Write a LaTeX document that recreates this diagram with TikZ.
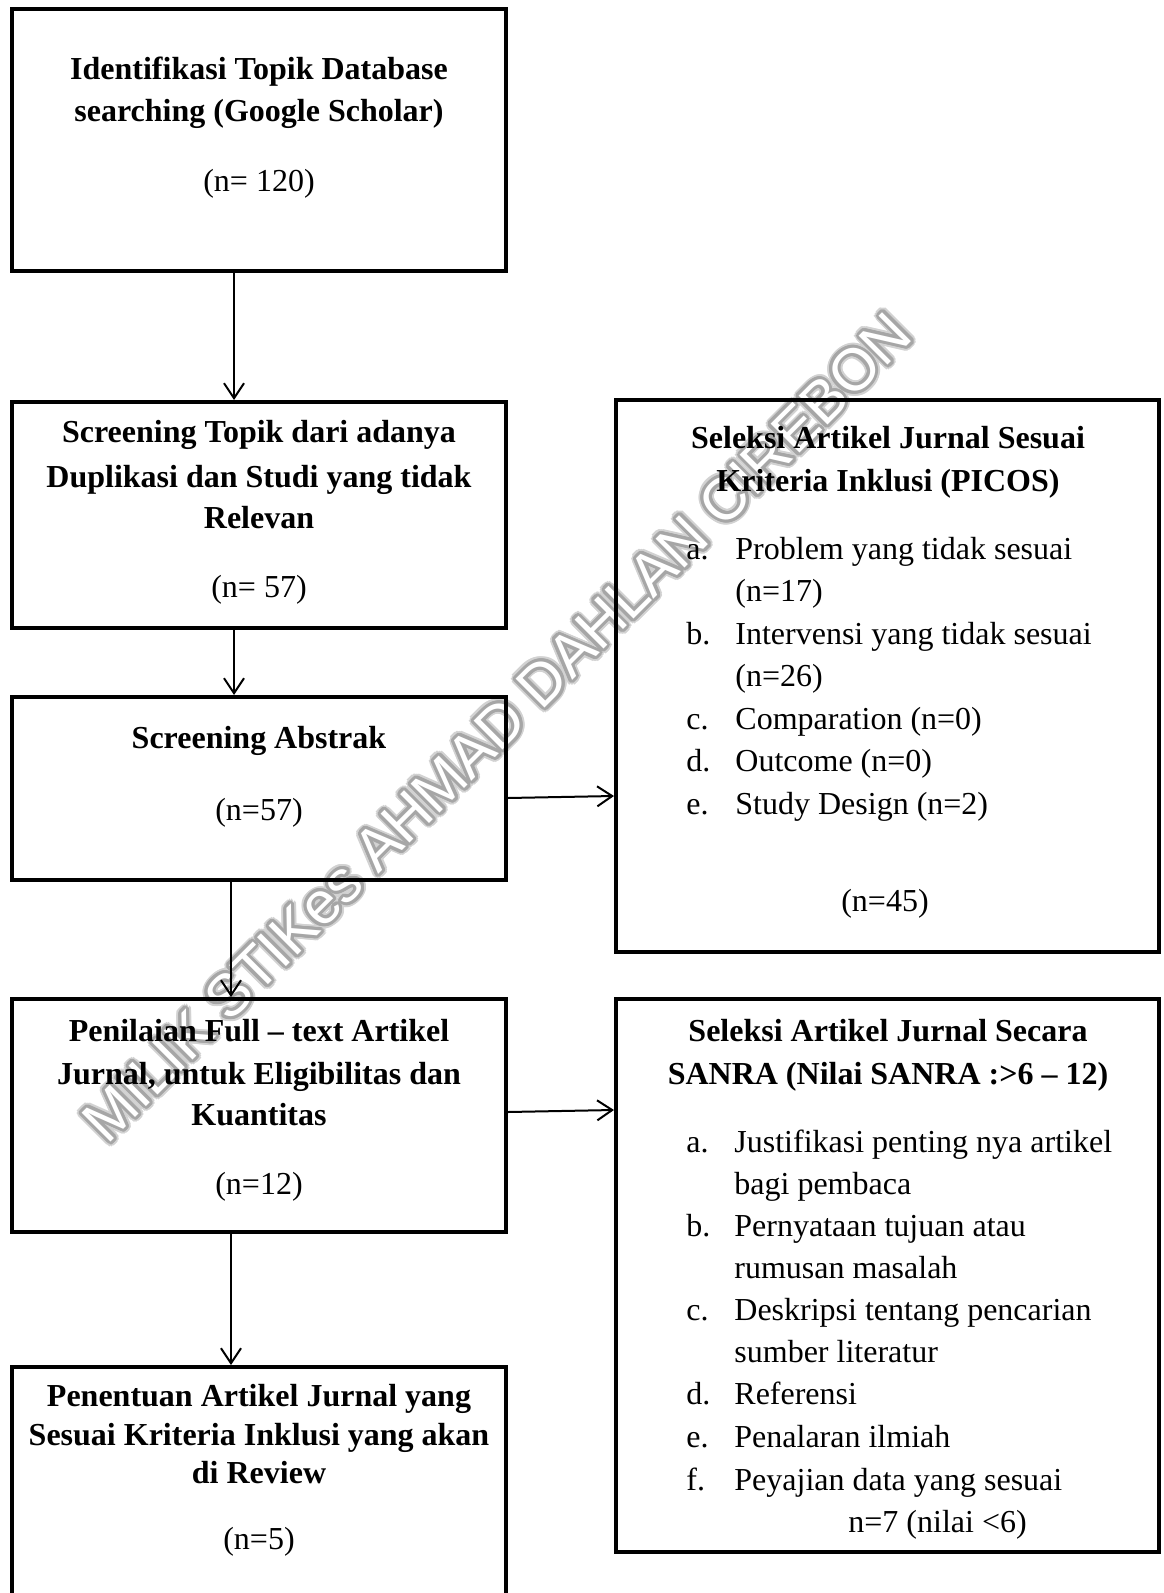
\documentclass[tikz,border=0pt]{standalone}
\usepackage{fontspec}
\setmainfont{Liberation Serif}
\newfontfamily\wmfont{Liberation Sans}
\usetikzlibrary{arrows.meta,calc}
\begin{document}
\begin{tikzpicture}[x=0.5pt,y=-0.5pt,
  box/.style={draw, line width=2pt, rectangle, inner sep=0pt},
  arr/.style={line width=1pt, -{Straight Barb[length=7.5pt,width=10pt]}},
  txt/.style={anchor=base, inner sep=0pt, font=\fontsize{16}{21}\selectfont},
  btxt/.style={txt, font=\fontsize{16}{21}\selectfont\bfseries},
  ltxt/.style={txt, anchor=base west},
  wm/.style={rotate=45, inner sep=0pt, font=\wmfont\fontsize{29.7}{30}\selectfont}]
\useasboundingbox (0,0) rectangle (1163,1593);
\fill[white] (0,0) rectangle (1163,1593);
\clip (0,0) rectangle (1163,1593);

% watermark (outlined grey lettering)
\foreach \a in {0,20,...,340}
  \node[wm, text=gray!35] at ($(497,727)+(\a:5)$) {MILIK STIKes AHMAD DAHLAN CIREBON};
\foreach \a in {0,20,...,340}
  \node[wm, text=gray!70] at ($(497,727)+(\a:3)$) {MILIK STIKes AHMAD DAHLAN CIREBON};
\node[wm, text=white] (wmark) at (497,727) {MILIK STIKes AHMAD DAHLAN CIREBON};

% boxes
\node[box, minimum width=247pt, minimum height=131pt] (b1) at (259,140) {};
\node[box, minimum width=247pt, minimum height=113pt] (b2) at (259,515) {};
\node[box, minimum width=247pt, minimum height=91.5pt] (b3) at (259,788.5) {};
\node[box, minimum width=247pt, minimum height=116.5pt] (b4) at (259,1115.5) {};
\node[box, minimum width=247pt, minimum height=126.5pt] (b5) at (259,1493.5) {};
\node[box, minimum width=271.5pt, minimum height=276pt] (p) at (887.5,676) {};
\node[box, minimum width=271.5pt, minimum height=276.5pt] (s) at (887.5,1275.5) {};

% connectors
\coordinate (x1) at (234,0);
\coordinate (x2) at (231,0);
\coordinate (y1) at (0,798);
\coordinate (y2) at (0,796);
\coordinate (y3) at (0,1112);
\coordinate (y4) at (0,1110);
\draw[arr] (b1.south -| x1) -- (b2.north -| x1);
\draw[arr] (b2.south -| x1) -- (b3.north -| x1);
\draw[arr] (b3.south -| x2) -- (b4.north -| x2);
\draw[arr] (b4.south -| x2) -- (b5.north -| x2);
\draw[arr] (b3.east |- y1) -- (p.west |- y2);
\draw[arr] (b4.east |- y3) -- (s.west |- y4);

% box 1
\node[btxt] (t11) at (259,80) {Identifikasi Topik Database};
\node[btxt] (t12) at (259,122) {searching (Google Scholar)};
\node[txt] (t13) at (259,192) {(n= 120)};
% box 2
\node[btxt] (t21) at (259,443) {Screening Topik dari adanya};
\node[btxt] (t22) at (259,487) {Duplikasi dan Studi yang tidak};
\node[btxt] (t23) at (259,528) {Relevan};
\node[txt] (t24) at (259,597) {(n= 57)};
% box 3
\node[btxt] (t31) at (259,748) {Screening Abstrak};
\node[txt] (t32) at (259,820) {(n=57)};
% box 4
\node[btxt] (t41) at (259,1041) {Penilaian Full – text Artikel};
\node[btxt] (t42) at (259,1084) {Jurnal, untuk Eligibilitas dan};
\node[btxt] (t43) at (259,1125) {Kuantitas};
\node[txt] (t44) at (259,1194) {(n=12)};
% box 5
\node[btxt] (t51) at (259,1406) {Penentuan Artikel Jurnal yang};
\node[btxt] (t52) at (259,1445) {Sesuai Kriteria Inklusi yang akan};
\node[btxt] (t53) at (259,1483) {di Review};
\node[txt] (t54) at (259,1549) {(n=5)};

% PICOS box
\node[btxt] (p1) at (888,448) {Seleksi Artikel Jurnal Sesuai};
\node[btxt] (p2) at (888,491) {Kriteria Inklusi (PICOS)};
\node[ltxt] (pa) at (686,559) {a.};
\node[ltxt] (pat) at (735,559) {Problem yang tidak sesuai};
\node[ltxt] (pan) at (735,601.5) {(n=17)};
\node[ltxt] (pb) at (686,644) {b.};
\node[ltxt] (pbt) at (735,644) {Intervensi yang tidak sesuai};
\node[ltxt] (pbn) at (735,686.5) {(n=26)};
\node[ltxt] (pc) at (686,729) {c.};
\node[ltxt] (pct) at (735,729) {Comparation (n=0)};
\node[ltxt] (pd) at (686,771.5) {d.};
\node[ltxt] (pdt) at (735,771.5) {Outcome (n=0)};
\node[ltxt] (pe) at (686,814) {e.};
\node[ltxt] (pet) at (735,814) {Study Design (n=2)};
\node[txt] (pn) at (885,911) {(n=45)};

% SANRA box
\node[btxt] (s1) at (888,1041) {Seleksi Artikel Jurnal Secara};
\node[btxt] (s2) at (888,1084) {SANRA (Nilai SANRA :>6 – 12)};
\node[ltxt] (sa) at (686,1152) {a.};
\node[ltxt] (sat) at (734,1152) {Justifikasi penting nya artikel};
\node[ltxt] (sat2) at (734,1194) {bagi pembaca};
\node[ltxt] (sb) at (686,1236) {b.};
\node[ltxt] (sbt) at (734,1236) {Pernyataan tujuan atau};
\node[ltxt] (sbt2) at (734,1278) {rumusan masalah};
\node[ltxt] (sc) at (686,1320) {c.};
\node[ltxt] (sct) at (734,1320) {Deskripsi tentang pencarian};
\node[ltxt] (sct2) at (734,1362) {sumber literatur};
\node[ltxt] (sd) at (686,1404) {d.};
\node[ltxt] (sdt) at (734,1404) {Referensi};
\node[ltxt] (se) at (686,1447) {e.};
\node[ltxt] (set) at (734,1447) {Penalaran ilmiah};
\node[ltxt] (sf) at (686,1490) {f.};
\node[ltxt] (sft) at (734,1490) {Peyajian data yang sesuai};
\node[ltxt] (sn) at (848,1532) {n=7 (nilai <6)};
\end{tikzpicture}
\end{document}
